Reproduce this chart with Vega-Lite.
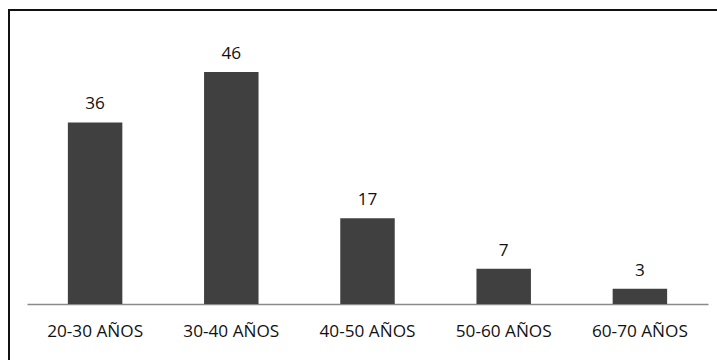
{
  "$schema": "https://vega.github.io/schema/vega-lite/v6.json",
  "autosize": "none",
  "width": 718,
  "height": 360,
  "padding": {"left": 9, "top": 10, "right": 0, "bottom": 0},
  "background": "white",
  "config": {
    "view": {"stroke": "#111111", "strokeWidth": 2},
    "font": "Open Sans"
  },
  "data": {
    "values": [
      {"grupo": "20-30 AÑOS", "valor": 36},
      {"grupo": "30-40 AÑOS", "valor": 46},
      {"grupo": "40-50 AÑOS", "valor": 17},
      {"grupo": "50-60 AÑOS", "valor": 7},
      {"grupo": "60-70 AÑOS", "valor": 3}
    ]
  },
  "encoding": {
    "x": {
      "field": "grupo",
      "type": "nominal",
      "sort": null,
      "scale": {"range": [18, 699], "paddingInner": 0.6, "paddingOuter": 0.3},
      "axis": {
        "title": null,
        "orient": "bottom",
        "offset": -66,
        "ticks": false,
        "labelAngle": 0,
        "labelFont": "Open Sans",
        "labelFontSize": 17.2,
        "labelColor": "#111111",
        "labelPadding": 18,
        "domainColor": "#8a8a8a",
        "domainWidth": 1.5,
        "grid": false
      }
    },
    "y": {
      "field": "valor",
      "type": "quantitative",
      "scale": {"domain": [-13.09, 58.3], "nice": false, "zero": false},
      "axis": null
    }
  },
  "layer": [
    {
      "mark": {"type": "bar", "color": "#404040"},
      "encoding": {"y2": {"datum": 0}}
    },
    {
      "mark": {
        "type": "text",
        "baseline": "alphabetic",
        "dy": -13,
        "font": "Open Sans",
        "fontSize": 17.2,
        "color": "#111111"
      },
      "encoding": {"text": {"field": "valor", "type": "quantitative"}}
    }
  ]
}
